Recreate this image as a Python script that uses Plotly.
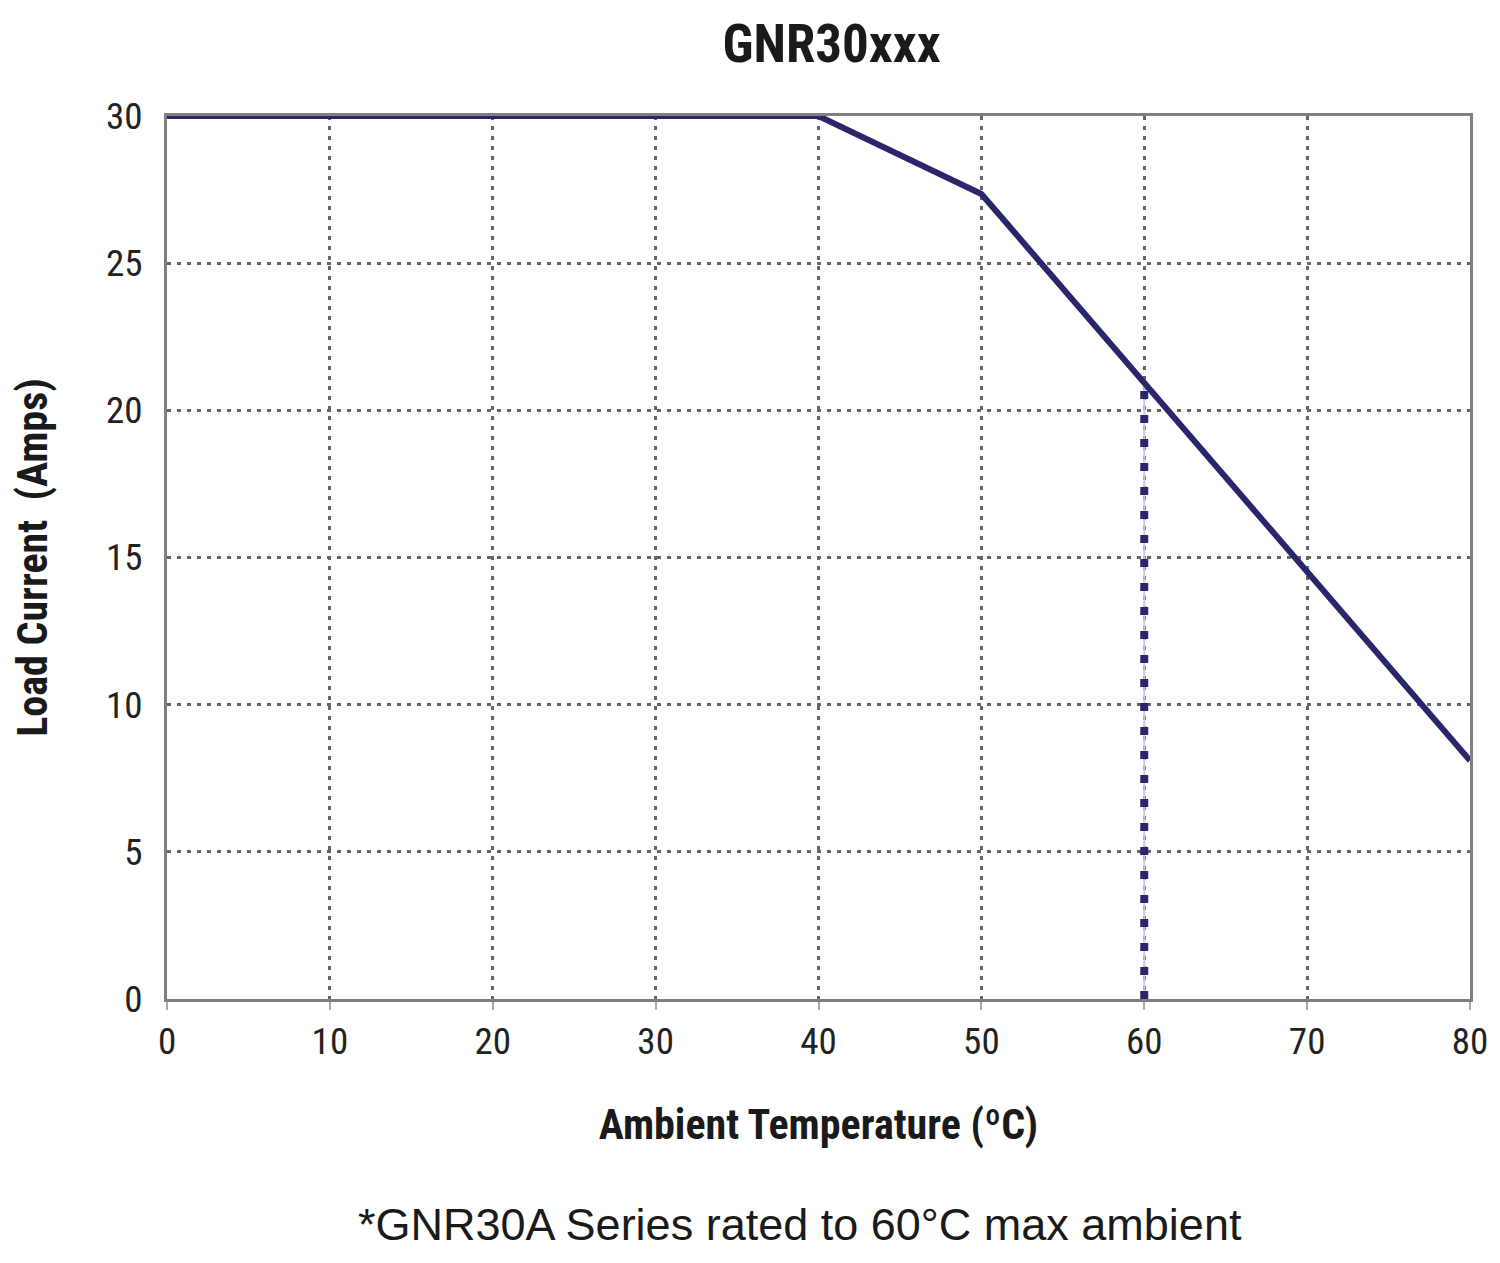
import plotly.graph_objects as go

temps = [0, 40, 50, 60, 70, 80]
current = [30, 30, 27.35, 20.95, 14.55, 8.1]
limit_x = [60, 60]
limit_y = [0, 20.95]
x_ticks = [0, 10, 20, 30, 40, 50, 60, 70, 80]
y_ticks = [0, 5, 10, 15, 20, 25, 30]

NARROW = "Liberation Sans Narrow, Arial Narrow, Roboto Condensed, Liberation Sans, sans-serif"
NAVY = "#29266c"

fig = go.Figure()
fig.add_trace(go.Scatter(x=limit_x, y=limit_y, mode="lines",
                         line=dict(color="#c9c8e6", width=2),
                         showlegend=False, hoverinfo="skip"))
fig.add_trace(go.Scatter(x=limit_x, y=limit_y, mode="lines",
                         line=dict(color=NAVY, width=8, dash="8px,16px"),
                         showlegend=False, hoverinfo="skip"))
fig.add_trace(go.Scatter(x=temps, y=current, mode="lines",
                         line=dict(color=NAVY, width=6),
                         showlegend=False))

fig.update_layout(
    width=1492, height=1255,
    margin=dict(l=159, r=25, t=108, b=264),
    paper_bgcolor="white", plot_bgcolor="white",
    title=dict(text="<b>GNR30xxx</b>", x=0.552, xanchor="center", y=0.972, yanchor="middle",
               font=dict(family=NARROW, size=53, color="#1a1a1a")),
    font=dict(family=NARROW, color="#222"),
)
fig.update_xaxes(range=[0, 80], tickvals=x_ticks, ticktext=[str(v) for v in x_ticks],
                 showgrid=True, gridcolor="#666", griddash="4px,6px", gridwidth=3,
                 showline=True, linecolor="#808080", linewidth=3, mirror=True,
                 ticks="outside", ticklen=8, tickcolor="#aaa", tickwidth=2,
                 tickfont=dict(size=37, family=NARROW, color="#222"),
                 zeroline=False,
                 title=dict(text="<b>Ambient Temperature (ºC)</b>", standoff=48,
                            font=dict(size=42, family=NARROW, color="#1a1a1a")))
fig.update_yaxes(range=[0, 30], tickvals=y_ticks, ticktext=[str(v) for v in y_ticks],
                 showgrid=True, gridcolor="#666", griddash="4px,6px", gridwidth=3,
                 showline=True, linecolor="#808080", linewidth=3, mirror=True,
                 ticks="", ticklabelstandoff=14,
                 tickfont=dict(size=37, family=NARROW, color="#222"),
                 zeroline=False,
                 title=dict(text="<b>Load Current  (Amps)</b>", standoff=50,
                            font=dict(size=42, family=NARROW, color="#1a1a1a")))
fig.add_annotation(text="*GNR30A Series rated to 60°C max ambient",
                   xref="paper", yref="paper", x=0.486, y=-0.255, xanchor="center", yanchor="middle",
                   showarrow=False, font=dict(size=45, family="Liberation Sans, Arial, sans-serif", color="#1a1a1a"))
fig.write_html("out.html")
